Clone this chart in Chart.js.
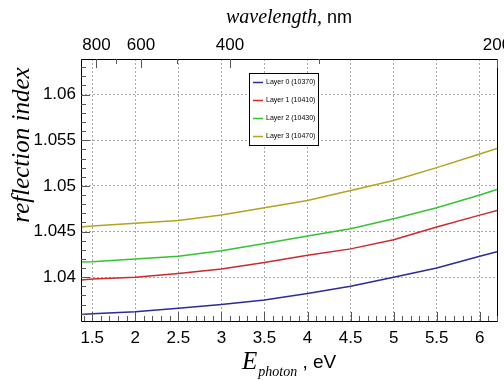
<!DOCTYPE html>
<html>
<head>
<meta charset="utf-8">
<script src="https://cdn.jsdelivr.net/npm/chart.js@4.4.0/dist/chart.umd.min.js"></script>
<style>
  html, body { margin: 0; padding: 0; background: #fff; }
</style>
</head>
<body>
<canvas id="refl" width="504" height="381"></canvas>
<script>
// photon energy (eV) and reflection index per layer
var energy = [1.37, 1.5, 2.0, 2.5, 3.0, 3.5, 4.0, 4.5, 5.0, 5.5, 6.0, 6.2];
var layer0 = [1.0359, 1.0360, 1.0362, 1.0366, 1.0370, 1.0375, 1.0382, 1.0390, 1.0400, 1.0410, 1.0423, 1.0428];
var layer1 = [1.0397, 1.0398, 1.0400, 1.0404, 1.0409, 1.0416, 1.0424, 1.0431, 1.0441, 1.0455, 1.0468, 1.0473];
var layer2 = [1.04165, 1.0417, 1.0420, 1.0423, 1.0429, 1.0437, 1.0445, 1.0453, 1.0464, 1.0476, 1.0490, 1.0496];
var layer3 = [1.0455, 1.0456, 1.0459, 1.0462, 1.0468, 1.0476, 1.0484, 1.0495, 1.0506, 1.0520, 1.0535, 1.0541];

var layerNames = ['Layer 0 (10370)', 'Layer 1 (10410)', 'Layer 2 (10430)', 'Layer 3 (10470)'];
var layerColors = ['#2b2b9b', '#cc2a2a', '#33c433', '#b3a31f'];

var xTicks = [1.5, 2, 2.5, 3, 3.5, 4, 4.5, 5, 5.5, 6];
var yTicks = [1.04, 1.045, 1.05, 1.055, 1.06];
var nmTicks = [800, 700, 600, 500, 400, 300, 200];
var nmLabels = [800, 600, 400, 200];

var HC = 1239.84; // eV*nm
var xMin = 1.37, xMax = 6.2;
var yMin = 1.0352, yMax = 1.0639;

function pts(ys) {
  return energy.map(function (e, i) { return { x: e, y: ys[i] }; });
}

var series = [layer0, layer1, layer2, layer3];
var datasets = series.map(function (ys, i) {
  return {
    label: layerNames[i],
    data: pts(ys),
    borderColor: layerColors[i],
    backgroundColor: layerColors[i],
    borderWidth: 1.5,
    pointRadius: 0,
    tension: 0,
    fill: false
  };
});

function fixSize(prop, size) {
  return function (scale) {
    scale[prop] = size;
    scale.paddingLeft = 0;
    scale.paddingRight = 0;
    scale.paddingTop = 0;
    scale.paddingBottom = 0;
  };
}

// frame, inward ticks, titles and legend
var decor = {
  id: 'decor',
  afterDraw: function (chart) {
    var ctx = chart.ctx;
    var a = chart.chartArea;
    var sx = chart.scales.x, sy = chart.scales.y;
    ctx.save();
    ctx.strokeStyle = '#000';
    ctx.lineWidth = 1;
    ctx.beginPath();
    ctx.rect(Math.round(a.left) + 0.5, Math.round(a.top) + 0.5,
             Math.round(a.right - a.left), Math.round(a.bottom - a.top));
    ctx.stroke();

    ctx.strokeStyle = '#555';
    ctx.beginPath();
    // bottom: every 0.1 eV
    for (var k = 14; k <= 62; k++) {
      var v = k / 10;
      if (v < xMin || v > xMax) continue;
      var px = Math.round(sx.getPixelForValue(v)) + 0.5;
      var len = (k % 5 === 0) ? 9 : 5;
      ctx.moveTo(px, a.bottom);
      ctx.lineTo(px, a.bottom - len);
    }
    // left: every 0.001
    for (var m = 1036; m <= 1063; m++) {
      var py = Math.round(sy.getPixelForValue(m / 1000)) + 0.5;
      var ln = (m % 5 === 0) ? 9 : 5;
      ctx.moveTo(a.left, py);
      ctx.lineTo(a.left + ln, py);
    }
    // top: wavelength ticks
    nmTicks.forEach(function (nm) {
      var px2 = Math.round(sx.getPixelForValue(HC / nm)) + 0.5;
      var l2 = nmLabels.indexOf(nm) >= 0 ? 9 : 5;
      ctx.moveTo(px2, a.top);
      ctx.lineTo(px2, a.top + l2);
    });
    ctx.stroke();

    ctx.fillStyle = '#000';
    // top title
    ctx.textBaseline = 'alphabetic';
    ctx.font = 'italic 20px "Liberation Serif"';
    var t1 = 'wavelength,';
    var w1 = ctx.measureText(t1).width;
    ctx.font = '18px "Liberation Sans"';
    var t2 = ' nm';
    var w2 = ctx.measureText(t2).width;
    var x0 = 289 - (w1 + w2) / 2;
    ctx.font = 'italic 20px "Liberation Serif"';
    ctx.fillText(t1, x0, 23);
    ctx.font = '18px "Liberation Sans"';
    ctx.fillText(t2, x0 + w1, 23);

    // bottom title
    ctx.font = 'italic 25px "Liberation Serif"';
    ctx.fillText('E', 242, 369);
    var we = ctx.measureText('E').width;
    ctx.font = 'italic 14px "Liberation Serif"';
    ctx.fillText('photon', 242 + we + 1, 376);
    var wp = ctx.measureText('photon').width;
    ctx.font = '19px "Liberation Sans"';
    ctx.fillText(' , eV', 242 + we + 1 + wp, 368);

    // y title
    ctx.save();
    ctx.translate(22, 145);
    ctx.rotate(-Math.PI / 2);
    ctx.font = 'italic 25px "Liberation Serif"';
    ctx.textAlign = 'center';
    ctx.textBaseline = 'middle';
    ctx.fillText('reflection index', 0, 0);
    ctx.restore();

    // legend
    ctx.fillStyle = '#fff';
    ctx.fillRect(249.5, 73.5, 69, 72);
    ctx.strokeStyle = '#000';
    ctx.strokeRect(249.5, 73.5, 69, 72);
    ctx.font = '7px "Liberation Sans"';
    ctx.textBaseline = 'middle';
    chart.data.datasets.forEach(function (ds, i) {
      var ly = 82.5 + 18 * i;
      ctx.strokeStyle = ds.borderColor;
      ctx.lineWidth = 1.5;
      ctx.beginPath();
      ctx.moveTo(253, ly);
      ctx.lineTo(263, ly);
      ctx.stroke();
      ctx.fillStyle = '#000';
      ctx.fillText(ds.label, 266, ly);
    });
    ctx.restore();
  }
};

var ctx = document.getElementById('refl');
var chart = new Chart(ctx, {
  type: 'line',
  data: { datasets: datasets },
  options: {
    responsive: false,
    animation: false,
    layout: { padding: { left: 0, right: 7, top: 0, bottom: 0 } },
    plugins: { legend: { display: false }, tooltip: { enabled: false } },
    scales: {
      x: {
        type: 'linear',
        position: 'bottom',
        min: xMin,
        max: xMax,
        afterBuildTicks: function (s) { s.ticks = xTicks.map(function (v) { return { value: v }; }); },
        afterFit: fixSize('height', 60),
        grid: { color: '#a8a8a8', drawTicks: false, lineWidth: 1 },
        border: { display: false, dash: [2, 2] },
        ticks: {
          color: '#000',
          font: { family: 'Liberation Sans', size: 17 },
          padding: 7,
          maxRotation: 0,
          autoSkip: false,
          callback: function (v) { return String(v); }
        }
      },
      x2: {
        type: 'linear',
        position: 'top',
        min: xMin,
        max: xMax,
        afterBuildTicks: function (s) { s.ticks = nmTicks.map(function (nm) { return { value: HC / nm }; }); },
        afterFit: fixSize('height', 59),
        grid: { display: false, drawTicks: false },
        border: { display: false },
        ticks: {
          color: '#000',
          font: { family: 'Liberation Sans', size: 17 },
          padding: 3,
          maxRotation: 0,
          autoSkip: false,
          callback: function (v, i) {
            var nm = nmTicks[i];
            return nmLabels.indexOf(nm) >= 0 ? String(nm) : '';
          }
        }
      },
      y: {
        type: 'linear',
        min: yMin,
        max: yMax,
        afterBuildTicks: function (s) { s.ticks = yTicks.map(function (v) { return { value: v }; }); },
        afterFit: fixSize('width', 81),
        grid: { color: '#a8a8a8', drawTicks: false, lineWidth: 1 },
        border: { display: false, dash: [2, 2] },
        ticks: {
          color: '#000',
          font: { family: 'Liberation Sans', size: 17 },
          padding: 5,
          autoSkip: false,
          callback: function (v) { return String(v); }
        }
      }
    }
  },
  plugins: [decor]
});
</script>
</body>
</html>
